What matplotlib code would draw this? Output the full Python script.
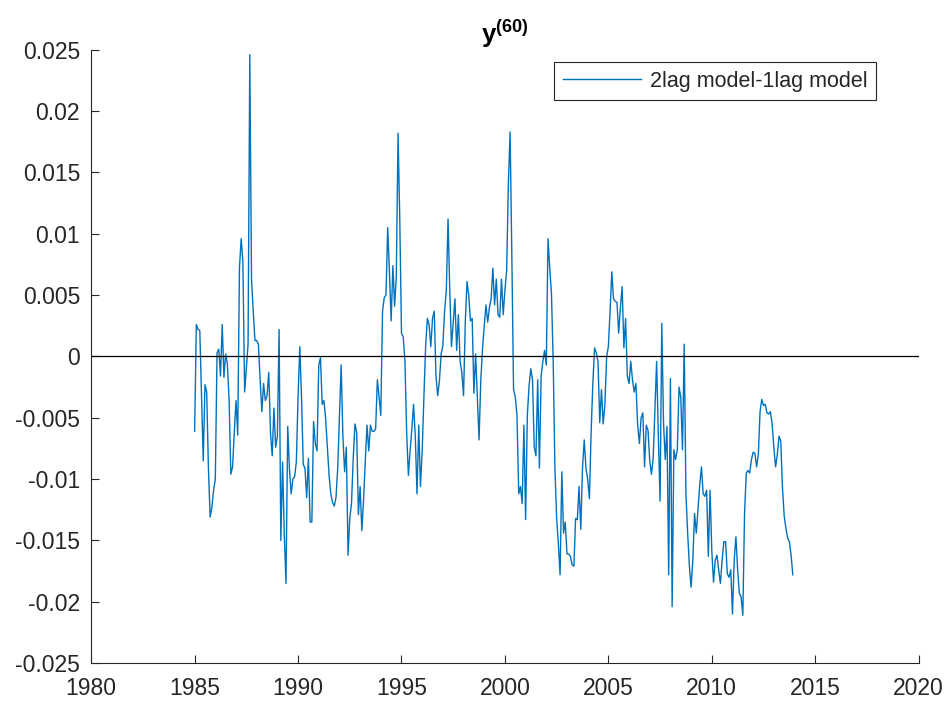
import matplotlib
matplotlib.use("Agg")
import matplotlib.pyplot as plt
import numpy as np

# monthly differences (2lag - 1lag), in units of 1e-3, Jan 1985 .. Dec 2013
start_year = 1985
vals_1985_1989 = [
    -6.1, 2.6, 2.2, 2.1, -3.3, -8.5, -2.3, -2.9, -9.1, -13.1, -12.3, -10.9,
    -10.0, 0.3, 0.6, -1.6, 2.6, -1.7, 0.2, -0.6, -3.6, -9.6, -9.0, -6.2,
    -3.6, -6.4, 7.2, 9.6, 7.7, -2.9, -1.0, 1.0, 24.6, 6.3, 3.7, 1.3,
    1.3, 1.0, -1.9, -4.5, -2.2, -3.6, -3.2, -1.3, -6.2, -8.1, -4.2, -7.4,
    -6.5, 2.2, -15.0, -8.6, -14.5, -18.5, -5.7, -9.2, -11.2, -10.0, -9.8, -8.6]
vals_1990_1994 = [
    -3.3, 0.8, -3.3, -8.8, -9.1, -11.5, -8.3, -13.5, -13.5, -5.3, -7.1, -7.7,
    -0.7, -0.1, -3.9, -3.6, -5.1, -7.4, -9.7, -11.2, -11.9, -12.2, -11.5, -9.1,
    -4.8, -0.7, -6.5, -9.4, -7.4, -16.2, -13.2, -12.0, -8.3, -5.5, -6.2, -12.9,
    -10.6, -14.2, -11.7, -8.5, -5.6, -7.7, -5.6, -6.1, -6.1, -5.9, -1.9, -3.3,
    -4.8, 3.7, 4.8, 5.0, 10.5, 6.9, 2.9, 7.4, 4.1, 6.6, 18.2, 11.2]
vals_1995_1999 = [
    1.9, 1.6, -0.4, -6.2, -9.7, -7.7, -5.9, -3.9, -6.5, -11.2, -5.6, -10.6,
    -7.7, -3.3, 0.8, 3.1, 2.6, 0.8, 3.1, 3.7, -1.6, -3.2, -2.0, 0.2,
    0.9, 3.7, 5.4, 11.2, 5.4, 0.8, 2.8, 4.7, 0.5, 3.4, -0.4, -1.3,
    -3.2, 2.8, 6.1, 5.0, 2.9, 3.1, -3.0, 0.2, -3.3, -6.8, -1.9, 0.6,
    2.5, 4.2, 2.8, 4.0, 4.7, 7.2, 4.2, 6.3, 3.4, 3.2, 6.3, 3.4]
vals_2000_2004 = [
    5.4, 7.0, 14.1, 18.3, 8.3, -2.7, -3.3, -4.8, -11.2, -10.6, -12.0, -5.6,
    -13.3, -4.8, -2.4, -1.0, -1.9, -7.4, -8.1, -1.9, -9.1, -1.6, -0.4, 0.5,
    -0.7, 9.6, 7.2, 5.1, -0.4, -9.1, -13.2, -15.3, -17.8, -9.4, -14.4, -13.5,
    -16.1, -16.1, -16.3, -17.0, -17.1, -13.2, -13.3, -10.6, -14.1, -9.1, -6.8, -9.1,
    -10.0, -11.6, -6.2, -2.2, 0.7, 0.3, -0.4, -5.4, -2.7, -5.5, -3.9, 0.0]
vals_2005_2009 = [
    0.8, 3.7, 6.9, 4.7, 4.5, 4.4, 1.9, 4.0, 5.7, 0.7, 3.1, -1.6,
    -2.2, -0.4, -1.9, -2.9, -2.2, -5.6, -7.1, -5.0, -4.6, -9.0, -5.6, -6.0,
    -8.5, -9.6, -8.3, -4.4, -0.4, -6.5, -11.8, 2.7, -5.4, -8.4, -5.7, -17.8,
    -1.8, -20.4, -7.6, -8.4, -7.6, -2.5, -3.3, -7.6, 1.0, -11.2, -14.4, -17.1,
    -18.8, -16.6, -12.8, -14.4, -12.5, -10.5, -9.0, -11.2, -11.4, -10.9, -16.3, -10.9]
vals_2010_2013 = [
    -15.8, -18.4, -16.6, -16.2, -17.4, -18.5, -16.6, -15.1, -15.1, -17.7, -18.0, -17.4,
    -21.0, -16.6, -14.7, -17.4, -19.3, -19.6, -21.1, -12.8, -9.5, -9.3, -9.5, -8.4,
    -7.8, -7.9, -9.0, -8.0, -4.5, -3.5, -4.0, -3.9, -4.6, -4.7, -4.5, -5.5,
    -7.4, -9.0, -8.0, -6.5, -6.9, -10.7, -13.0, -14.0, -14.8, -15.1, -16.2, -17.8]

x_ticks = [1980, 1985, 1990, 1995, 2000, 2005, 2010, 2015, 2020]
y_ticks = [-0.025, -0.02, -0.015, -0.01, -0.005, 0, 0.005, 0.01, 0.015, 0.02, 0.025]
series_label = '2lag model-1lag model'

plt.rcParams['font.family'] = ['Liberation Sans', 'DejaVu Sans']
plt.rcParams['mathtext.fontset'] = 'custom'
plt.rcParams['mathtext.bf'] = 'Liberation Sans:bold'
plt.rcParams['mathtext.rm'] = 'Liberation Sans'

diff = np.array(vals_1985_1989 + vals_1990_1994 + vals_1995_1999 +
                vals_2000_2004 + vals_2005_2009 + vals_2010_2013) * 1e-3
dates = start_year + np.arange(len(diff)) / 12.0

fig = plt.figure(figsize=(9.5, 7.01), dpi=100)
ax = fig.add_axes([0.096, 0.054, 0.871, 0.875])

ax.plot(dates, diff, color='#0072BD', linewidth=1.0, label=series_label)
ax.axhline(0, color='black', linewidth=0.9)

ax.set_xlim(1980, 2020)
ax.set_ylim(-0.025, 0.025)
ax.set_xticks(x_ticks)
ax.set_yticks(y_ticks)
ax.set_yticklabels(['%g' % round(v, 3) for v in y_ticks])

for side in ['top', 'right']:
    ax.spines[side].set_visible(False)
for side in ['left', 'bottom']:
    ax.spines[side].set_color('#262626')
    ax.spines[side].set_linewidth(0.8)
ax.tick_params(direction='in', length=5.8, width=0.8, colors='#262626',
               labelsize=16.5, labelcolor='#262626')
ax.tick_params(axis='x', pad=10)
ax.tick_params(axis='y', pad=8)

ax.set_title(r'$\mathbf{y^{(60)}}$', fontsize=18.5, pad=3)

leg = ax.legend(loc='upper right', bbox_to_anchor=(0.949, 0.98), borderaxespad=0,
                fontsize=15.5, fancybox=False, framealpha=1, edgecolor='#262626',
                handlelength=3.6, borderpad=0.4, handletextpad=0.45)
leg.get_frame().set_linewidth(0.8)
for t in leg.get_texts():
    t.set_color('#262626')

fig.savefig('out.png', dpi=100)
